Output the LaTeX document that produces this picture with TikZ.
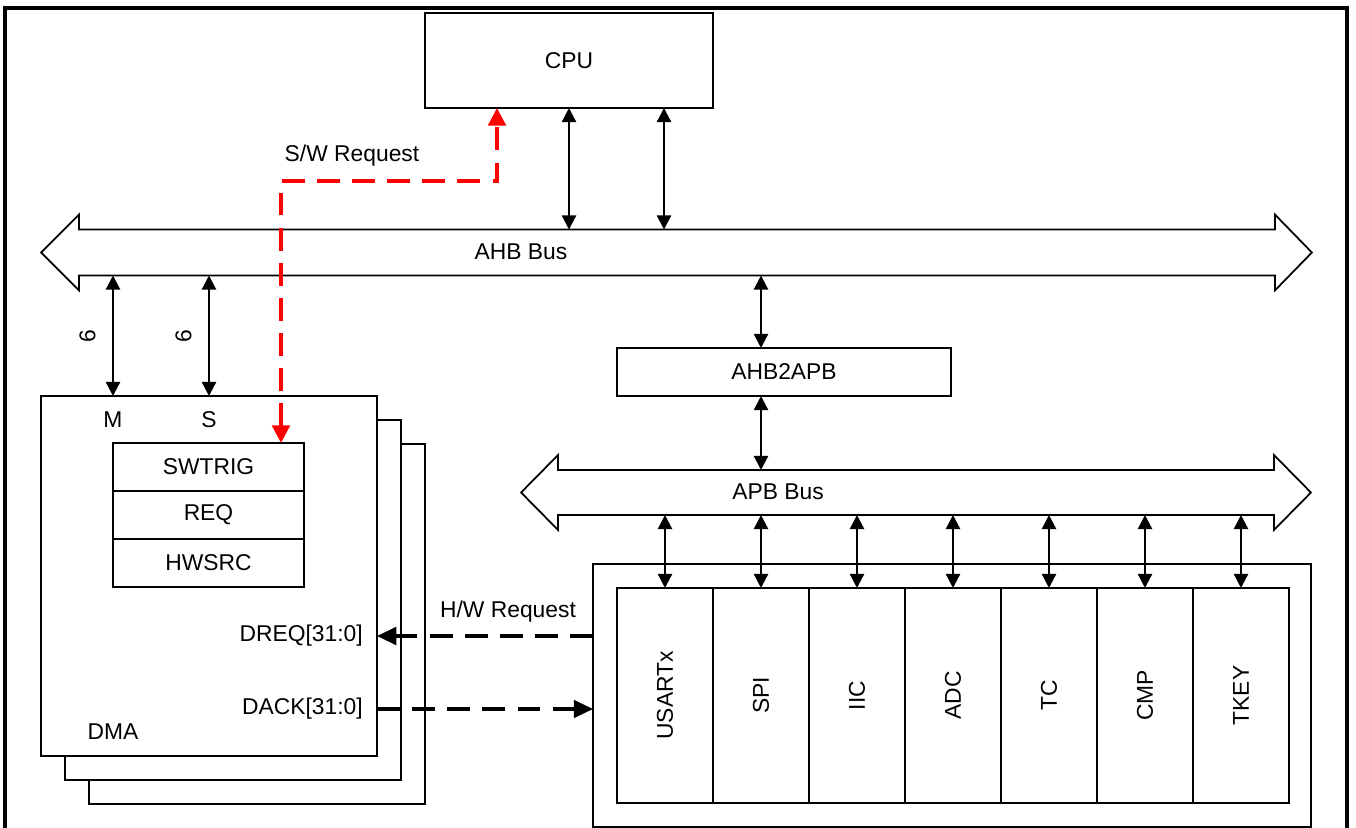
\documentclass[tikz,border=0pt]{standalone}
\usepackage{fontspec}
\setmainfont{Liberation Sans}
\usetikzlibrary{arrows.meta}

\begin{document}
\begin{tikzpicture}[x=0.02cm, y=-0.02cm, font=\fontsize{13}{15}\selectfont,
  blk/.style={draw, line width=1pt, fill=white, inner sep=0pt, outer sep=0pt},
  busbody/.style={inner sep=0pt, outer sep=0pt},
  bus/.style={draw, line width=1pt, line join=miter},
  biarrow/.style={{Triangle[length=8pt,width=8pt]}-{Triangle[length=8pt,width=8pt]}, line width=1.2pt},
  swreq/.style={{Triangle[length=10pt,width=10pt]}-{Triangle[length=10pt,width=10pt]}, red, line width=1.9pt, dash pattern=on 13pt off 7pt},
  hwreq/.style={-{Triangle[length=11pt,width=10pt]}, line width=1.9pt, dash pattern=on 13pt off 7pt}]
  \useasboundingbox (0,0) rectangle (1356,828);
  \draw[line width=2pt] (5,840) -- (5,8) -- (1347,8) -- (1347,840);
  % cpu
  \node[blk, minimum width=5.76cm, minimum height=1.9cm] (cpu) at (569,60.5) {CPU};
  \coordinate (cpua) at (569,0);
  \coordinate (cpub) at (664,0);
  \coordinate (swx) at (497,0);
  % ahb bus
  \node[busbody, minimum width=23.92cm, minimum height=0.92cm] (ahb) at (677,252.5) {};
  \draw[bus] (ahb.north west) -- (ahb.north east) -- ++(0,-15) -- ++(37,38) -- ++(-37,38) -- ++(0,-15)
    -- (ahb.south west) -- ++(0,15) -- ++(-38,-38) -- ++(38,-38) -- cycle;
  \node (ahblbl) at (521,252) {AHB Bus};
  \draw[biarrow] (cpu.south -| cpua) -- (ahb.north -| cpua);
  \draw[biarrow] (cpu.south -| cpub) -- (ahb.north -| cpub);
  % dma stack
  \node[blk, minimum width=6.72cm, minimum height=7.2cm] (dma3) at (257,624) {};
  \node[blk, minimum width=6.72cm, minimum height=7.2cm] (dma2) at (233,600) {};
  \node[blk, minimum width=6.72cm, minimum height=7.2cm] (dma) at (209,576) {};
  \node (mlbl) at (113,420) {M};
  \node (slbl) at (209,420) {S};
  \node (dmalbl) at (113,732) {DMA};
  \node[blk, minimum width=3.82cm, minimum height=0.96cm] (swtrig) at (208.5,467) {SWTRIG};
  \node[blk, minimum width=3.82cm, minimum height=0.96cm, anchor=north] (req) at (swtrig.south) {REQ};
  \node[blk, minimum width=3.82cm, minimum height=0.96cm, anchor=north] (hwsrc) at (req.south) {HWSRC};
  \node[anchor=east] (dreq) at (369,636) {DREQ[31:0]};
  \node[anchor=east] (dack) at (369,709) {DACK[31:0]};
  \draw[biarrow] (ahb.south -| mlbl) -- node[left=6pt, rotate=90, anchor=south] {6} (dma.north -| mlbl);
  \draw[biarrow] (ahb.south -| slbl) -- node[left=6pt, rotate=90, anchor=south] {6} (dma.north -| slbl);
  % s/w request
  \coordinate (swbend) at (281,181);
  \draw[swreq] (swtrig.north -| swbend) -- (swbend) -| (cpu.south -| swx);
  \node (swlbl) at (352,156) {S/W Request};
  % ahb2apb
  \node[blk, minimum width=6.68cm, minimum height=0.96cm] (a2a) at (784,372) {AHB2APB};
  % apb bus
  \node[busbody, minimum width=14.32cm, minimum height=0.9cm] (apb) at (916,492.5) {};
  \draw[bus] (apb.north west) -- (apb.north east) -- ++(0,-15) -- ++(37,37.5) -- ++(-37,37.5) -- ++(0,-15)
    -- (apb.south west) -- ++(0,15) -- ++(-37,-37.5) -- ++(37,-37.5) -- cycle;
  \node (apblbl) at (778,492) {APB Bus};
  % peripherals
  \node[blk, minimum width=14.36cm, minimum height=5.26cm] (per) at (952,695.5) {};
  \foreach \name [count=\i from 0] in {USARTx,SPI,IIC,ADC,TC,CMP,TKEY} {
    \node[blk, minimum width=1.92cm, minimum height=4.3cm] (p\i) at (665+96*\i,695.5) {\rotatebox{90}{\name}};
    \draw[biarrow] (apb.south -| p\i) -- (p\i.north);
  }
  \draw[biarrow] (ahb.south -| p1) -- (a2a.north -| p1);
  \draw[biarrow] (a2a.south -| p1) -- (apb.north -| p1);
  % h/w request
  \draw[hwreq] (per.west |- dreq) -- (dma.east |- dreq);
  \draw[hwreq] (dma.east |- dack) -- (per.west |- dack);
  \node (hwlbl) at (508,612) {H/W Request};
\end{tikzpicture}
\end{document}
